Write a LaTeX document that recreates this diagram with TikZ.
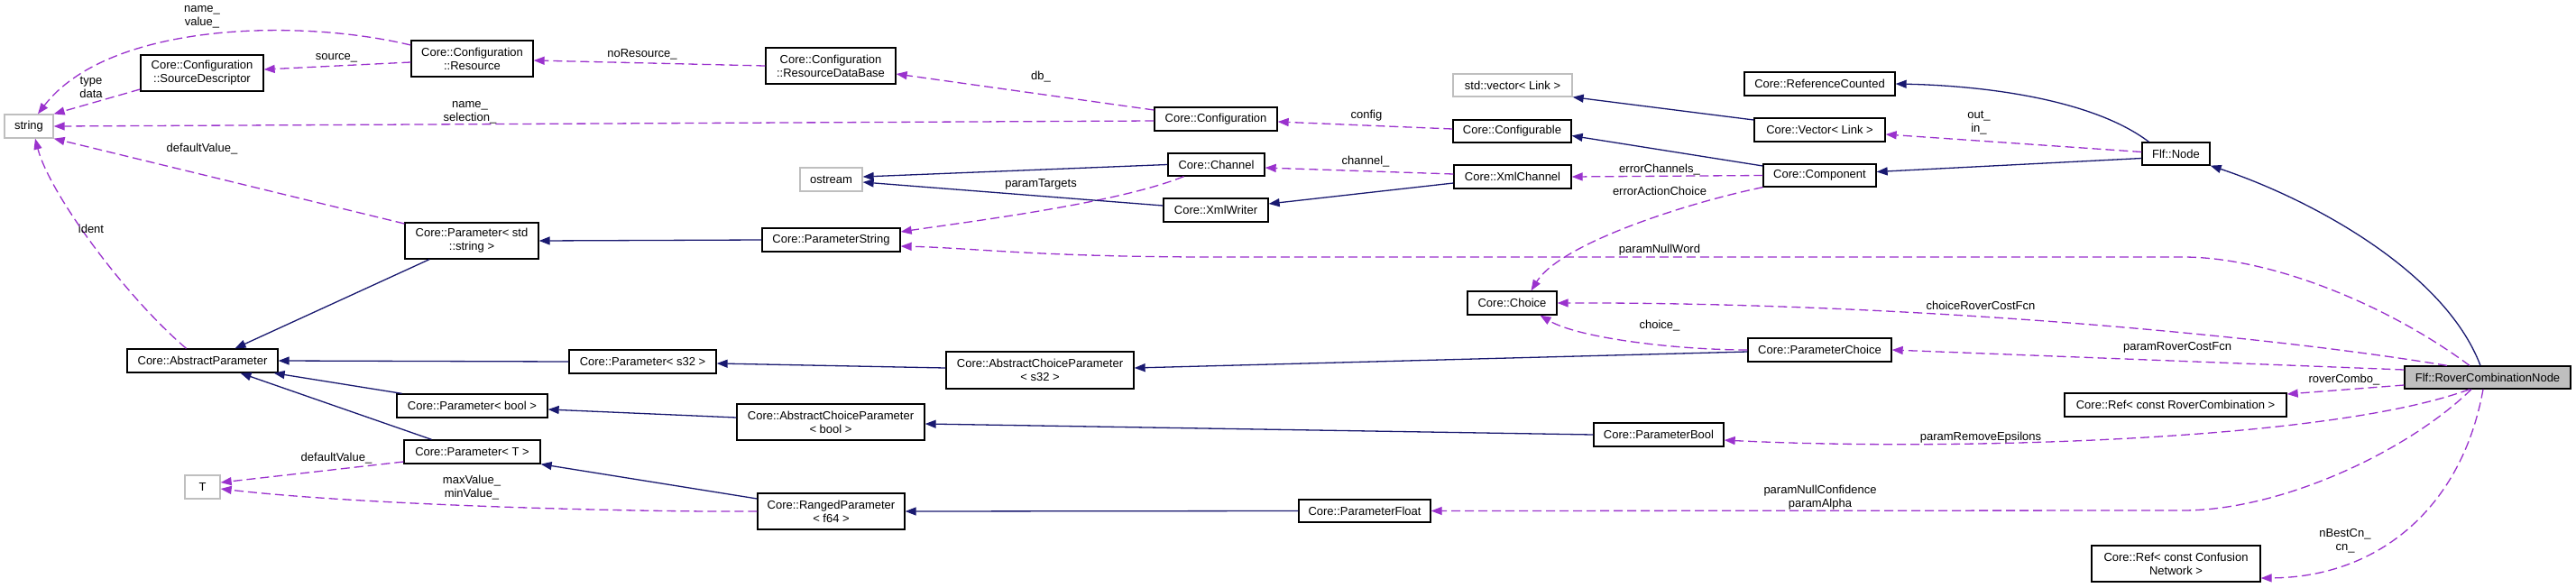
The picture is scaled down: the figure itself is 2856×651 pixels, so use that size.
\documentclass[tikz,border=0pt]{standalone}
\usepackage{fontspec}
\setmainfont{Liberation Sans}
\usetikzlibrary{arrows.meta}
\definecolor{navyc}{HTML}{191970}
\definecolor{purpc}{HTML}{9A32CD}
\definecolor{greyc}{HTML}{BFBFBF}
\newcommand{\fsz}{\fontsize{13}{15}\selectfont}
\tikzset{
  box/.style={draw=black, line width=1.3pt, fill=white, inner sep=0pt, align=center, font=\fsz},
  sz/.style 2 args={minimum width=#1pt, minimum height=#2pt},
  ext/.style={draw=greyc},
  inh/.style={draw=navyc, line width=1.3pt, -{Triangle[length=12pt,width=9pt]}},
  use/.style={draw=purpc, line width=1.3pt, dash pattern=on 10pt off 5pt, -{Triangle[length=12pt,width=9pt]}},
  lbl/.style={font=\fsz, align=center, inner sep=0pt},
}
\begin{document}
\begin{tikzpicture}[x=1pt,y=-1pt]
\useasboundingbox (0,0) rectangle (2856,651);
\fill[white] (0,0) rectangle (2856,651);

% nodes
\node[box,ext,sz={54}{26}] (str) at (32,140) {string};
\node[box,sz={136}{40}] (srcd) at (224,81) {Core::Configuration\\::SourceDescriptor};
\node[box,sz={135}{40}] (res) at (523.5,65) {Core::Configuration\\::Resource};
\node[box,sz={144}{40}] (rdb) at (921,73) {Core::Configuration\\::ResourceDataBase};
\node[box,sz={136}{26}] (conf) at (1348,132) {Core::Configuration};
\node[box,ext,sz={132}{25}] (stdv) at (1677,94.5) {std::vector< Link >};
\node[box,sz={131}{25}] (cfgb) at (1676.5,145.5) {Core::Configurable};
\node[box,ext,sz={69}{26}] (ostr) at (921.5,199) {ostream};
\node[box,sz={107}{25}] (chan) at (1348.5,182.5) {Core::Channel};
\node[box,sz={130}{26}] (xmlc) at (1677,196) {Core::XmlChannel};
\node[box,sz={116}{26}] (xmlw) at (1348,233) {Core::XmlWriter};
\node[box,sz={153}{26}] (pstring) at (921.5,266) {Core::ParameterString};
\node[box,sz={148}{40}] (pstr) at (523,267) {Core::Parameter< std\\::string >};
\node[box,sz={99}{26}] (choice) at (1676.5,336) {Core::Choice};
\node[box,sz={167}{26}] (absp) at (224.5,400) {Core::AbstractParameter};
\node[box,sz={163}{26}] (p32) at (712.5,401) {Core::Parameter< s32 >};
\node[box,sz={208}{41}] (acp32) at (1153,410.5) {Core::AbstractChoiceParameter\\< s32 >};
\node[box,sz={159}{26}] (pchoice) at (2017.5,388) {Core::ParameterChoice};
\node[box,sz={184}{25},fill=greyc] (rcn) at (2758,418.5) {Flf::RoverCombinationNode};
\node[box,sz={246}{26}] (refrc) at (2412,449) {Core::Ref< const RoverCombination >};
\node[box,sz={167}{26}] (pbool) at (523.5,450) {Core::Parameter< bool >};
\node[box,sz={208}{40}] (acpb) at (921,468) {Core::AbstractChoiceParameter\\< bool >};
\node[box,sz={144}{26}] (parbool) at (1839,482) {Core::ParameterBool};
\node[box,sz={151}{26}] (pt) at (523.5,501) {Core::Parameter< T >};
\node[box,ext,sz={39}{26}] (tt) at (224.5,540) {T};
\node[box,sz={163}{40}] (rp) at (921.5,567) {Core::RangedParameter\\< f64 >};
\node[box,sz={146}{25}] (pfloat) at (1513,566.5) {Core::ParameterFloat};
\node[box,sz={187}{40}] (refcn) at (2412.5,625) {Core::Ref< const Confusion\\Network >};
\node[box,sz={167}{26}] (rc) at (2017.5,93) {Core::ReferenceCounted};
\node[box,sz={145}{26}] (vec) at (2017.5,144) {Core::Vector< Link >};
\node[box,sz={75}{25}] (flfn) at (2412.5,170.5) {Flf::Node};
\node[box,sz={125}{25}] (comp) at (2017.5,194.5) {Core::Component};

% usage (dashed) edges
\draw[use] ([yshift=15pt]res.west) .. controls (330,20) and (120,25) .. ([xshift=10pt]str.north);
\draw[use] ([yshift=-18pt]srcd.west) -- (str.north east);
\draw[use] ([yshift=-4pt]res.west) -- ([yshift=4pt]srcd.east);
\draw[use] (rdb.west) -- ([yshift=-2pt]res.east);
\draw[use] ([yshift=10pt]conf.west) -- ([yshift=-9pt]rdb.east);
\draw[use] ([yshift=-2pt]conf.west) -- (str.east);
\draw[use] ([yshift=19pt]pstr.west) -- (str.south east);
\draw[use] ([xshift=-18pt]absp.north) .. controls (140,330) and (55,215) .. ([xshift=7pt]str.south);
\draw[use] ([yshift=2.5pt]cfgb.west) -- ([yshift=-3pt]conf.east);
\draw[use] ([yshift=3pt]xmlc.west) -- ([yshift=-3.5pt]chan.east);
\draw[use] ([xshift=-36pt]chan.south) .. controls (1240,225) and (1080,245) .. ([yshift=9pt]pstring.east);
\draw[use] (comp.west) -- (xmlc.east);
\draw[use] (comp.south west) .. controls (1870,225) and (1730,270) .. ([xshift=21pt]choice.north);
\draw[use] ([yshift=2pt]flfn.west) -- ([yshift=-5pt]vec.east);
\draw[use] ([xshift=-20pt]rcn.north) .. controls (2650,340) and (2520,285) .. (2420,285) -- (1350,285) .. controls (1150,285) and (1080,275) .. ([yshift=-7pt]pstring.east);
\draw[use] ([xshift=-45pt]rcn.north) .. controls (2500,370) and (2100,335) .. (choice.east);
\draw[use] (pchoice.west) .. controls (1860,388) and (1750,375) .. ([xshift=31pt]choice.south);
\draw[use] ([yshift=8.5pt]rcn.west) -- (pchoice.east);
\draw[use] ([yshift=-8.5pt]rcn.west) -- ([yshift=12pt]refrc.east);
\draw[use] ([xshift=-20pt]rcn.south) .. controls (2580,490) and (2150,500) .. ([yshift=-6pt]parbool.east);
\draw[use] ([xshift=-18pt]rcn.south) .. controls (2670,500) and (2530,566) .. (2420,566) -- (pfloat.east);
\draw[use] ([xshift=-5pt]rcn.south) .. controls (2730,560) and (2640,640) .. ([yshift=-16pt]refcn.east);
\draw[use] ([yshift=-11pt]pt.west) -- ([yshift=5pt]tt.east);
\draw[use] (rp.west) .. controls (700,568) and (400,560) .. ([yshift=-2pt]tt.east);

% inheritance (solid) edges
\draw[inh] ([yshift=11pt]vec.west) -- (stdv.south east);
\draw[inh] ([yshift=10.5pt]comp.west) -- ([yshift=-5pt]cfgb.east);
\draw[inh] ([yshift=-5pt]flfn.west) -- ([yshift=4pt]comp.east);
\draw[inh] ([xshift=-30pt]flfn.north) .. controls (2320,110) and (2200,95) .. (rc.east);
\draw[inh] ([xshift=-8pt]rcn.north) .. controls (2710,300) and (2560,220) .. (flfn.south east);
\draw[inh] (chan.west) -- ([yshift=3pt]ostr.east);
\draw[inh] ([yshift=5pt]xmlw.west) -- ([yshift=-3pt]ostr.east);
\draw[inh] ([yshift=-7pt]xmlc.west) -- ([yshift=7pt]xmlw.east);
\draw[inh] (pstring.west) -- (pstr.east);
\draw[inh] ([xshift=-47pt]pstr.south) -- ([xshift=36pt]absp.north);
\draw[inh] (p32.west) -- (absp.east);
\draw[inh] ([xshift=-78pt]pbool.north) -- ([xshift=-5pt]absp.south east);
\draw[inh] ([xshift=-45pt]pt.north) -- ([xshift=42pt]absp.south);
\draw[inh] ([yshift=2.5pt]acp32.west) -- ([yshift=-2pt]p32.east);
\draw[inh] ([yshift=5pt]acpb.west) -- ([yshift=-4pt]pbool.east);
\draw[inh] ([yshift=14pt]rp.west) -- (pt.south east);
\draw[inh] ([yshift=-2pt]pchoice.west) -- ([yshift=2.5pt]acp32.east);
\draw[inh] (parbool.west) -- ([yshift=-2pt]acpb.east);
\draw[inh] (pfloat.west) -- (rp.east);

% edge labels
\node[lbl] (l1) at (224,19) {name\_\\value\_};
\node[lbl] (l2) at (373,64) {source\_};
\node[lbl] (l3) at (712,60) {noResource\_};
\node[lbl] (l4) at (101,96.5) {type\\data};
\node[lbl] (l5) at (521,124.5) {name\_\\selection\_};
\node[lbl] (l6) at (224,165) {defaultValue\_};
\node[lbl] (l7) at (101,254) {ident};
\node[lbl] (l8) at (1154,85) {db\_};
\node[lbl] (l9) at (1515,128) {config};
\node[lbl] (l10) at (1514,179) {channel\_};
\node[lbl] (l11) at (1154,204) {paramTargets};
\node[lbl] (l12) at (1840,188) {errorChannels\_};
\node[lbl] (l13) at (1840,212) {errorActionChoice};
\node[lbl] (l14) at (2194,136.5) {out\_\\in\_};
\node[lbl] (l15) at (1840,277) {paramNullWord};
\node[lbl] (l16) at (2196,339) {choiceRoverCostFcn};
\node[lbl] (l17) at (1840,361) {choice\_};
\node[lbl] (l18) at (2414,385) {paramRoverCostFcn};
\node[lbl] (l19) at (2599,421) {roverCombo\_};
\node[lbl] (l20) at (2196,485) {paramRemoveEpsilons};
\node[lbl] (l21) at (2018,551.5) {paramNullConfidence\\paramAlpha};
\node[lbl] (l22) at (2600,599.5) {nBestCn\_\\cn\_};
\node[lbl] (l23) at (373,508) {defaultValue\_};
\node[lbl] (l24) at (523,540.5) {maxValue\_\\minValue\_};
\end{tikzpicture}
\end{document}
